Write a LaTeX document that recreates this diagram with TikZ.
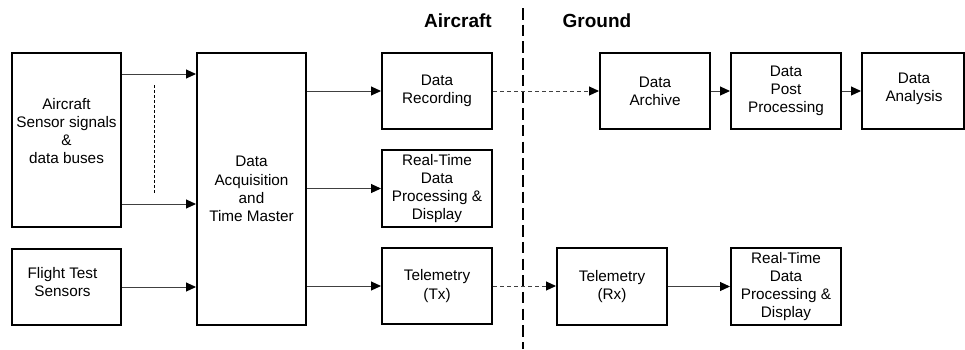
\documentclass[tikz,border=0pt]{standalone}
\usepackage{fontspec}
\setmainfont{Liberation Sans}
\usetikzlibrary{arrows.meta}
\begin{document}
\begin{tikzpicture}[x=1pt,y=-1pt,
  box/.style={draw=black,line width=2pt,inner sep=0pt},
  lbl/.style={align=center,font=\fontsize{15.3}{18.3}\selectfont,inner sep=0pt},
  conn/.style={draw=black!75,line width=1pt,-{Triangle[length=10pt,width=9pt,color=black]}},
  dconn/.style={conn,dash pattern=on 4pt off 3pt},
  head/.style={font=\bfseries\fontsize{19}{22}\selectfont,inner sep=0pt}
]
\useasboundingbox (0,0) rectangle (965,349);

% box from (x1,y1) to (x2,y2) with centred label
\newcommand\blockbox[6]{%
  \node[box,minimum width={#4-#2},minimum height={#5-#3}] (#1) at ({(#2+#4)/2},{(#3+#5)/2}) {};%
  \node[lbl] (#1t) at (#1) {#6};}

% aircraft side
\node[box,minimum width=109,minimum height=174] (sens) at (66.5,140) {};
\node[lbl] (senst) at (66.5,131) {Aircraft\\Sensor signals\\\&\\data buses};
\node[box,minimum width=109,minimum height=76] (fts) at (66.5,287) {};
\node[lbl] (ftst) at (62.5,282) {Flight Test\\Sensors};
\blockbox{daq}{197}{53}{306}{325}{Data\\Acquisition\\and\\Time Master}
\blockbox{rec}{382}{53}{492}{129}{Data\\Recording}
\blockbox{rtp}{382}{150}{492}{227}{Real-Time\\Data\\Processing \&\\Display}
\blockbox{tx}{382}{248}{492}{324}{Telemetry\\(Tx)}

% ground side
\blockbox{arch}{600}{53}{710}{129}{Data\\Archive}
\blockbox{post}{731}{53}{841}{129}{Data\\Post\\Processing}
\node[box,minimum width=102,minimum height=76] (anal) at (913,91) {};
\node[lbl] (analt) at (914,88.5) {Data\\Analysis};
\blockbox{rx}{557}{248}{667}{325}{Telemetry\\(Rx)}
\blockbox{rtg}{731}{248}{841}{325}{Real-Time\\Data\\Processing \&\\Display}

% headings and the aircraft/ground divide
\node[head] (hac) at (458,21) {Aircraft};
\node[head] (hgr) at (597,21) {Ground};
\coordinate (divtop) at (523,8);
\coordinate (divbot) at (523,349);
\draw[line width=1.3pt,dash pattern=on 11.5pt off 5.2pt] (divtop) -- (divbot);

% sensor inputs
\draw[conn] (sens.east |- 0,74) -- (daq.west |- 0,74);
\draw[conn] (sens.east |- 0,204) -- (daq.west |- 0,204);
\coordinate (ellt) at (154,85);
\coordinate (ellb) at (154,194);
\draw[line width=0.9pt,dash pattern=on 3pt off 2pt] (ellt) -- (ellb);
\draw[conn] (fts.east |- 0,287) -- (daq.west |- 0,287);

% acquisition outputs
\draw[conn] (daq.east |- rec) -- (rec.west);
\draw[conn] (daq.east |- rtp) -- (rtp.west);
\draw[conn] (daq.east |- tx) -- (tx.west);

% ground chain
\draw[dconn] (rec.east) -- (arch.west |- rec);
\draw[conn] (arch.east) -- (post.west);
\draw[conn] (post.east) -- (anal.west |- post);
\draw[dconn] (tx.east) -- (rx.west |- tx);
\draw[conn] (rx.east) -- (rtg.west |- rx);
\end{tikzpicture}
\end{document}
